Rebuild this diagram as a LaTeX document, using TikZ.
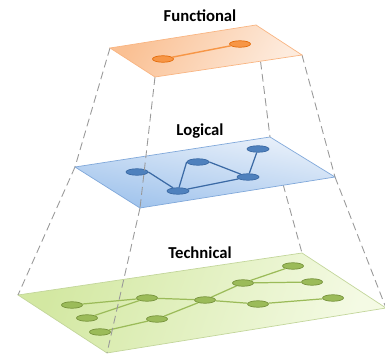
\documentclass[tikz,border=0pt]{standalone}
\usepackage{fontspec}
\setmainfont{Carlito}
\usepackage{tikz}
\usetikzlibrary{shapes.geometric}

\definecolor{funcnode}{HTML}{F79646}
\definecolor{funcline}{HTML}{E46C0A}
\definecolor{funcdark}{HTML}{FAC093}
\definecolor{funclight}{HTML}{FDEBDD}
\definecolor{funcborder}{HTML}{F9B582}
\definecolor{lognode}{HTML}{4F81BD}
\definecolor{logline}{HTML}{3B6AA5}
\definecolor{logdark}{HTML}{9EC2EC}
\definecolor{loglight}{HTML}{EAF1FA}
\definecolor{logborder}{HTML}{80A8DA}
\definecolor{technode}{HTML}{9BBB59}
\definecolor{techline}{HTML}{77933C}
\definecolor{techdark}{HTML}{D3E8A2}
\definecolor{techlight}{HTML}{F4FAE4}
\definecolor{techborder}{HTML}{C3D69B}
\definecolor{frame}{HTML}{999999}

\begin{document}
\begin{tikzpicture}[x=0.02cm, y=-0.02cm,
    title/.style={font=\fontsize{9.5}{11}\selectfont\bfseries},
    dot/.style={ellipse, inner sep=0pt, minimum width=0.42cm, minimum height=0.13cm},
    fdot/.style={dot, draw=funcline, fill=funcnode, line width=0.4pt},
    ldot/.style={dot, draw=logline, fill=lognode, line width=0.4pt, minimum width=0.44cm},
    tdot/.style={dot, draw=techline, fill=technode, line width=0.4pt},
    frameline/.style={draw=frame, line width=0.5pt, dash pattern=on 4.5pt off 2.5pt}]
    \useasboundingbox (0,0) rectangle (385,354);

    % technical layer
    \coordinate (tl) at (18,295);
    \coordinate (tt) at (302,253);
    \coordinate (tr) at (386,308);
    \coordinate (tb) at (107,353);
    \shade[draw=techborder, left color=techdark, right color=techlight, shading angle=70]
        (tl) -- (tt) -- (tr) -- (tb) -- cycle;
    \node (tech) [title] at (200,253) {Technical};
    \node (ta) [tdot] at (72,305) {};
    \node (tbb) [tdot] at (87,318) {};
    \node (tc) [tdot] at (100,332) {};
    \node (td) [tdot] at (147,298) {};
    \node (te) [tdot] at (157,319) {};
    \node (tf) [tdot] at (205,300) {};
    \node (tg) [tdot] at (243,283) {};
    \node (th) [tdot] at (258,304) {};
    \node (ti) [tdot] at (293,266) {};
    \node (tj) [tdot] at (312,282) {};
    \node (tk) [tdot] at (333,298) {};
    \draw[technode, line width=0.7pt] (ta) -- (td);
    \draw[technode, line width=0.7pt] (tbb) -- (td);
    \draw[technode, line width=0.7pt] (tc) -- (te);
    \draw[technode, line width=0.7pt] (te) -- (tf);
    \draw[technode, line width=0.7pt] (td) -- (tf);
    \draw[technode, line width=0.7pt] (tf) -- (tg);
    \draw[technode, line width=0.7pt] (tf) -- (th);
    \draw[technode, line width=0.7pt] (tg) -- (ti);
    \draw[technode, line width=0.7pt] (tg) -- (tj);
    \draw[technode, line width=0.7pt] (th) -- (tk);

    % logical layer
    \coordinate (ll) at (75,167);
    \coordinate (lt) at (270,137);
    \coordinate (lr) at (335,177);
    \coordinate (lb) at (140,208);
    \draw[frameline] (ll) -- (tl);
    \draw[frameline] (lt) -- (tt);
    \draw[frameline] (lr) -- (tr);
    \draw[frameline] (lb) -- (tb);
    \shade[draw=logborder, top color=loglight, bottom color=logdark, shading angle=-10]
        (ll) -- (lt) -- (lr) -- (lb) -- cycle;
    \node (log) [title] at (200,131) {Logical};
    \node (la) [ldot] at (137,172) {};
    \node (lbb) [ldot] at (178,191) {};
    \node (lc) [ldot] at (198,162) {};
    \node (ld) [ldot] at (248,177) {};
    \node (le) [ldot] at (258,149) {};
    \draw[logline, line width=0.7pt] (la.east) -- (lbb);
    \draw[logline, line width=0.7pt] (lbb) -- (lc.west);
    \draw[logline, line width=0.7pt] (lc.east) -- (ld);
    \draw[logline, line width=0.7pt] (lbb) -- (ld);
    \draw[logline, line width=0.7pt] (ld) -- (le);

    % functional layer
    \coordinate (fl) at (110,48);
    \coordinate (ft) at (256,25);
    \coordinate (fr) at (302,55);
    \coordinate (fb) at (155,77);
    \draw[frameline] (fl) -- (ll);
    \draw[frameline] (ft) -- (lt);
    \draw[frameline] (fr) -- (lr);
    \draw[frameline] (fb) -- (lb);
    \shade[draw=funcborder, left color=funcdark, right color=funclight, shading angle=60]
        (fl) -- (ft) -- (fr) -- (fb) -- cycle;
    \node (func) [title] at (200,16) {Functional};
    \node (fa) [fdot] at (163,59) {};
    \node (fbb) [fdot] at (240,44) {};
    \draw[funcnode, line width=0.8pt] (fa) -- (fbb);
\end{tikzpicture}
\end{document}
